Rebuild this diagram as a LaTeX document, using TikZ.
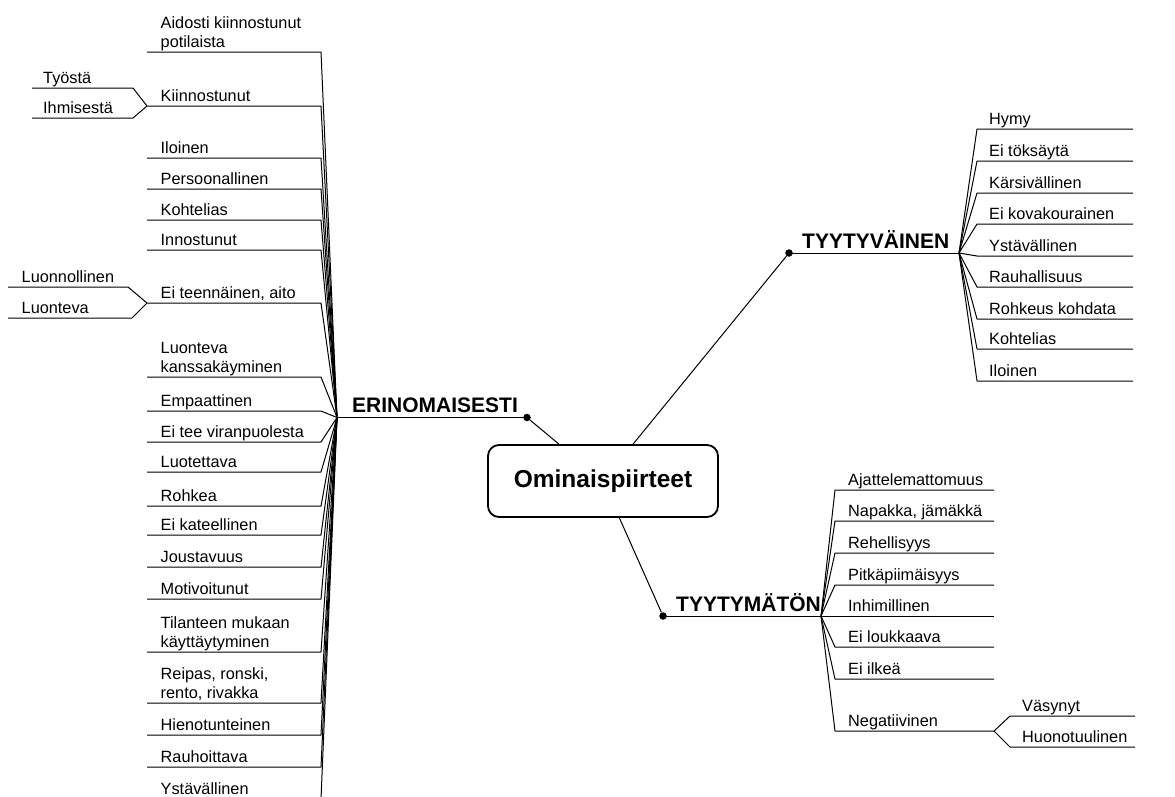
\documentclass[tikz,border=0pt]{standalone}
\usepackage{fontspec}
\setmainfont{Liberation Sans}
\newcommand{\twoline}[2]{\vbox{\baselineskip=19pt\hbox{#1}\hbox{#2}}}
\begin{document}
\begin{tikzpicture}[x=1pt,y=-1pt,
  branch/.style={line width=1pt,line join=round},
  leaf/.style={anchor=base west,inner sep=0pt,font=\fontsize{16.3}{19}\selectfont},
  cat/.style={anchor=base west,inner sep=0pt,font=\fontsize{21}{25}\selectfont\bfseries},
  rootbox/.style={draw,line width=1.8pt,rounded corners=11pt,minimum width=230pt,
    minimum height=72pt,inner sep=0pt,font=\fontsize{24.5}{28}\selectfont\bfseries},
  knot/.style={circle,fill,inner sep=0pt,minimum size=7.5pt}]
\useasboundingbox (0,0) rectangle (1175,796);
\clip (0,0) rectangle (1175,796);

% central topic
\node[rootbox] (root) at (603,481) {Ominaispiirteet};

% main branches: knot, hub and heading
\node[knot] (dE) at (527,417.5) {};
\node[knot] (dV) at (789,253) {};
\node[knot] (dM) at (663,616) {};
\coordinate (hE) at (337,417.5);
\coordinate (hV) at (959,253);
\coordinate (hM) at (821,616);
\draw[branch] (root) -- (dE);
\draw[branch] (root) -- (dV);
\draw[branch] (root) -- (dM);
\draw[branch] (dE.center) -- (hE);
\draw[branch] (dV.center) -- (hV);
\draw[branch] (dM.center) -- (hM);
\node[cat] (tE) at (352,412.5) {ERINOMAISESTI};
\node[cat] (tV) at (802,248) {TYYTYVÄINEN};
\node[cat] (tM) at (676,611) {TYYTYMÄTÖN};

% ERINOMAISESTI leaves (underlines run left of the hub)
\foreach \y/\t [count=\i] in {
  52/{\twoline{Aidosti kiinnostunut}{potilaista}},
  106/Kiinnostunut,
  158/Iloinen,
  189/Persoonallinen,
  220/Kohtelias,
  250/Innostunut,
  303/{Ei teennäinen, aito},
  377/{\twoline{Luonteva}{kanssakäyminen}},
  411/Empaattinen,
  442/Ei tee viranpuolesta,
  472/Luotettava,
  506/Rohkea,
  535/Ei kateellinen,
  567/Joustavuus,
  599/Motivoitunut,
  652/{\twoline{Tilanteen mukaan}{käyttäytyminen}},
  703/{\twoline{Reipas, ronski,}{rento, rivakka}},
  735/Hienotunteinen,
  767/Rauhoittava,
  799/Ystävällinen}{
  \coordinate (La\i) at (147,\y);
  \coordinate (Lb\i) at (321,\y);
  \node[leaf] (L\i) at (160.5,\y-4.5) {\t};
  \draw[branch] (hE) -- (Lb\i) -- (La\i);
}

% sub-leaves of Kiinnostunut
\coordinate (k1a) at (133,88);  \coordinate (k1b) at (32,88);
\coordinate (k2a) at (133,118); \coordinate (k2b) at (32,118);
\draw[branch] (La2) -- (k1a) -- (k1b);
\draw[branch] (La2) -- (k2a) -- (k2b);
\node[leaf] (k1) at (43,83) {Työstä};
\node[leaf] (k2) at (43,113.5) {Ihmisestä};

% sub-leaves of Ei teennäinen, aito
\coordinate (a1a) at (128,287); \coordinate (a1b) at (8,287);
\coordinate (a2a) at (132,318); \coordinate (a2b) at (8,318);
\draw[branch] (La7) -- (a1a) -- (a1b);
\draw[branch] (La7) -- (a2a) -- (a2b);
\node[leaf] (a1) at (21.5,282) {Luonnollinen};
\node[leaf] (a2) at (21.5,313.5) {Luonteva};

% TYYTYVÄINEN leaves
\foreach \y/\t [count=\i] in {
  129/Hymy, 161/Ei töksäytä, 193/Kärsivällinen, 224/Ei kovakourainen,
  256/Ystävällinen, 287/Rauhallisuus, 319/Rohkeus kohdata, 349/Kohtelias,
  381/Iloinen}{
  \coordinate (Va\i) at (977,\y);
  \coordinate (Vb\i) at (1133,\y);
  \node[leaf] (V\i) at (989,\y-5) {\t};
  \draw[branch] (hV) -- (Va\i) -- (Vb\i);
}

% TYYTYMÄTÖN leaves
\foreach \y/\t [count=\i] in {
  490/Ajattelemattomuus, 521/{Napakka, jämäkkä}, 553/Rehellisyys,
  585/Pitkäpiimäisyys, 616/Inhimillinen, 647/Ei loukkaava, 679/Ei ilkeä,
  731/Negatiivinen}{
  \coordinate (Ma\i) at (835,\y);
  \coordinate (Mb\i) at (994,\y);
  \node[leaf] (M\i) at (848,\y-5) {\t};
  \draw[branch] (hM) -- (Ma\i) -- (Mb\i);
}

% sub-leaves of Negatiivinen
\coordinate (n1a) at (1010,716); \coordinate (n1b) at (1135,716);
\coordinate (n2a) at (1010,747); \coordinate (n2b) at (1135,747);
\draw[branch] (Mb8) -- (n1a) -- (n1b);
\draw[branch] (Mb8) -- (n2a) -- (n2b);
\node[leaf] (n1) at (1022,711) {Väsynyt};
\node[leaf] (n2) at (1022,742) {Huonotuulinen};
\end{tikzpicture}
\end{document}
